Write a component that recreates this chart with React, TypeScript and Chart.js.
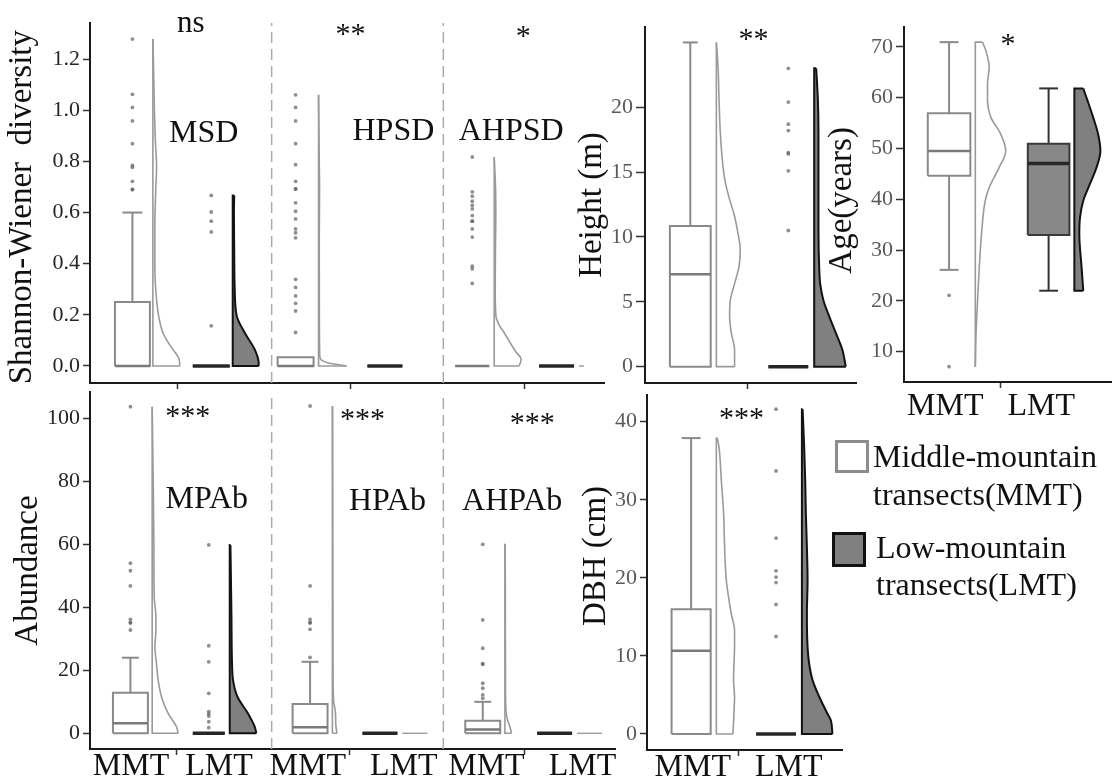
import React, { useEffect, useRef } from "react";
import { Chart, registerables } from "chart.js";

Chart.register(...registerables);

const FONT = "'Liberation Serif', 'Times New Roman', Times, serif";
Chart.defaults.font.family = FONT;

// ================= DATA =================
// Box statistics: [lower whisker, Q1, median, Q3, upper whisker]
// Half-violin outlines: [value, density width]

// ---- Shannon-Wiener diversity ----
const shannonYTicks = [0, 0.2, 0.4, 0.6, 0.8, 1.0, 1.2];
const shannonFacets = ["MSD", "HPSD", "AHPSD"];
const shannonSignif = ["ns", "**", "*"];
const msdMMTBox = [0, 0, 0, 0.25, 0.6];
const msdLMTBox = [0, 0, 0, 0, 0];
const hpsdMMTBox = [0, 0, 0, 0.034, 0.034];
const hpsdLMTBox = [0, 0, 0, 0, 0];
const ahpsdMMTBox = [0, 0, 0, 0, 0];
const ahpsdLMTBox = [0, 0, 0, 0, 0];
const msdMMTOutliers = [1.278, 1.062, 1.011, 0.958, 0.869, 0.784, 0.777, 0.722, 0.69, 0.69];
const msdLMTOutliers = [0.667, 0.602, 0.566, 0.524, 0.157];
const hpsdMMTOutliers = [1.06, 1.011, 0.958, 0.869, 0.787, 0.722, 0.692, 0.692, 0.638, 0.605, 0.575, 0.536, 0.521, 0.501, 0.339, 0.307, 0.274, 0.245, 0.215, 0.131];
const hpsdLMTOutliers: number[] = [];
const ahpsdMMTOutliers = [0.817, 0.681, 0.664, 0.644, 0.628, 0.614, 0.588, 0.566, 0.566, 0.536, 0.504, 0.39, 0.38, 0.323];
const ahpsdLMTOutliers: number[] = [];
const msdMMTViolin = [[0, 27], [0.03, 26], [0.065, 20], [0.1, 14], [0.13, 10], [0.19, 6], [0.26, 3.7], [0.39, 2], [0.55, 2], [0.7, 3], [0.78, 3.7], [0.88, 2.5], [1.0, 1.5], [1.15, 0.8], [1.278, 0]];
const msdLMTViolin = [[0, 26], [0.013, 26], [0.065, 22], [0.13, 12], [0.196, 4], [0.3, 2], [0.45, 1.5], [0.6, 1.2], [0.667, 1.5]];
const hpsdMMTViolin = [[0, 28], [0.005, 20], [0.012, 10], [0.023, 3], [0.04, 1.2], [0.2, 0.8], [0.5, 0.7], [0.69, 1], [0.8, 0.7], [1.06, 0]];
const hpsdLMTViolin: number[][] = [];
const ahpsdMMTViolin = [[0, 25], [0.026, 27], [0.054, 22], [0.078, 18], [0.13, 10], [0.16, 5], [0.196, 1.7], [0.3, 1], [0.45, 1.2], [0.6, 1.6], [0.7, 1.3], [0.817, 0]];
const ahpsdLMTViolin = [[0, 5]];

// ---- Height (m) ----
const heightYTicks = [0, 5, 10, 15, 20];
const heightSignif = "**";
const heightMMTBox = [0, 0, 7.12, 10.85, 25.0];
const heightLMTBox = [0, 0, 0, 0, 0];
const heightMMTOutliers: number[] = [];
const heightLMTOutliers = [23.0, 20.4, 18.7, 18.2, 16.5, 16.4, 15.1, 10.5];
const heightMMTViolin = [[0, 18.3], [1.3, 18.3], [2.6, 15], [3.9, 13.3], [5.1, 14], [6.4, 18.3], [7.7, 22.7], [9, 24], [10.3, 21.7], [11.6, 18.3], [12.9, 13.3], [14.1, 9.3], [15.4, 6.7], [18, 4], [20.6, 2.7], [23.1, 1.7], [25, 0]];
const heightLMTViolin = [[0, 31.7], [1.3, 28.3], [2.6, 21.7], [3.9, 15], [5.1, 9.3], [6.4, 6], [7.7, 5], [10.3, 4.3], [15.4, 4.3], [18, 4.3], [20.6, 3.7], [23, 2]];

// ---- Age (years) ----
const ageYTicks = [10, 20, 30, 40, 50, 60, 70];
const ageSignif = "*";
const ageMMTBox = [26.1, 44.6, 49.5, 56.9, 70.9];
const ageLMTBox = [22, 32.95, 47.05, 50.9, 61.8];
const ageMMTOutliers = [21.1, 7.05];
const ageLMTOutliers: number[] = [];
const ageMMTViolin = [[7, 0], [13.5, 0.7], [20.1, 2.3], [26.6, 4], [33.2, 6.3], [39.7, 10], [42.3, 14], [46.2, 24], [49.5, 30.7], [52.8, 25.7], [56.1, 15.7], [59.4, 12.3], [62.7, 12.3], [66, 14], [69.2, 10.7], [70.9, 7.3]];
const ageLMTViolin = [[22, 9], [26.6, 7.3], [33.2, 5], [36.4, 5.7], [39.7, 9], [43, 15.7], [46.2, 22.3], [49.5, 26.3], [52.8, 24], [56.1, 19], [59.4, 13.3], [61.8, 9]];

// ---- Abundance ----
const abundanceYTicks = [0, 20, 40, 60, 80, 100];
const abundanceFacets = ["MPAb", "HPAb", "AHPAb"];
const abundanceSignif = ["***", "***", "***"];
const mpabMMTBox = [0, 0, 3.17, 12.9, 24];
const mpabLMTBox = [0, 0, 0, 0, 0];
const hpabMMTBox = [0, 0, 1.9, 9.3, 22.7];
const hpabLMTBox = [0, 0, 0, 0, 0];
const ahpabMMTBox = [0, 0, 1.2, 4.0, 10];
const ahpabLMTBox = [0, 0, 0, 0, 0];
const mpabMMTOutliers = [103.7, 54, 51.6, 46.8, 36.2, 35.1, 35.1, 32.8];
const mpabLMTOutliers = [59.8, 27.8, 22.7, 12.7, 6.9, 6.2, 5.5, 3.7, 1.8];
const hpabMMTOutliers = [103.9, 46.8, 36.2, 35.1, 35.1, 33, 24.1];
const hpabLMTOutliers: number[] = [];
const ahpabMMTOutliers = [60, 36, 27, 22, 22, 15.9, 14.3, 12.2, 11.1];
const ahpabLMTOutliers: number[] = [];
const mpabMMTViolin = [[0, 26], [2.1, 24.3], [6.3, 16], [11.6, 9.3], [16.9, 6], [22.2, 4.3], [27.5, 2.7], [32.8, 3.7], [37.1, 3.7], [43.4, 2], [59.3, 1.7], [80.4, 1], [103.7, 0]];
const mpabLMTViolin = [[0, 26.7], [2.1, 25], [6.3, 18.3], [11.6, 7.7], [16.9, 3.3], [22.2, 2.3], [38, 1.7], [59.8, 0.7]];
const hpabMMTViolin = [[0, 4.7], [3, 3.5], [6.3, 3.3], [10.6, 1.3], [20, 0.8], [50, 0.6], [103.9, 0.3]];
const hpabLMTViolin = [[0, 25]];
const ahpabMMTViolin = [[0, 6.7], [2.1, 5], [4.2, 2.7], [7.4, 1], [15, 0.6], [30, 0.5], [60, 0.3]];
const ahpabLMTViolin = [[0, 25]];

// ---- DBH (cm) ----
const dbhYTicks = [0, 10, 20, 30, 40];
const dbhSignif = "***";
const dbhMMTBox = [0, 0, 10.67, 15.97, 37.9];
const dbhLMTBox = [0, 0, 0, 0, 0];
const dbhMMTOutliers: number[] = [];
const dbhLMTOutliers = [41.6, 33.7, 25.1, 20.9, 20.1, 19.4, 16.6, 12.5];
const dbhMMTViolin = [[0, 16.7], [2.6, 17.7], [4.8, 18.3], [6.9, 17.3], [9, 17.7], [11.1, 18.3], [13.3, 18.3], [15.4, 15], [17.5, 12.3], [19.7, 10], [24, 8.3], [28.2, 7.3], [32.5, 5], [36.7, 2.7], [37.9, 1]];
const dbhLMTViolin = [[0, 30.7], [1.8, 29], [2.6, 25.7], [4.8, 17.3], [6.9, 10.7], [9, 7.3], [11.1, 5.7], [15.4, 5], [19.7, 5.7], [24, 5], [28.2, 4], [32.5, 3.3], [36.7, 2.3], [41.6, 0.7]];

const groupLabel = "MMT   LMT";
const legendLabels = [["Middle-mountain", "transects(MMT)"], ["Low-mountain", "transects(LMT)"]];

// ================= STYLES / LAYOUT =================
const MMT_STYLE = {
  boxStroke: "#8a8a8a", boxFill: "#ffffff", boxWidth: 2,
  medianStroke: "#7a7a7a", medianWidth: 2.5,
  whiskerStroke: "#8a8a8a", whiskerWidth: 2,
  violinStroke: "#9a9a9a", violinFill: "#ffffff", violinWidth: 1.6,
  flatStroke: "#a0a0a0",
};
const LMT_STYLE = {
  boxStroke: "#3a3a3a", boxFill: "#888888", boxWidth: 2,
  medianStroke: "#262626", medianWidth: 3.5,
  whiskerStroke: "#333333", whiskerWidth: 2,
  violinStroke: "#121212", violinFill: "#808080", violinWidth: 2,
  flatStroke: "#a0a0a0",
};
const OUTLIER_COLOR = "rgba(100,100,100,0.72)";

// slot positions along each panel's x axis (page-pixel units)
const shannonSlots = [
  { box: [115, 150], cap: 10, violin: 153 },
  { box: [193, 230], cap: 10, violin: 233 },
  { box: [278, 314], cap: 9, violin: 319 },
  { box: [368, 403], cap: 9, violin: 406 },
  { box: [456, 490], cap: 9, violin: 495 },
  { box: [540, 575], cap: 9, violin: 580 },
];
const heightSlots = [
  { box: [670, 711], cap: 7.5, violin: 716.7 },
  { box: [769, 809], cap: 7.5, violin: 815 },
];
const ageSlots = [
  { box: [928, 971], cap: 9.5, violin: 976 },
  { box: [1029, 1071], cap: 9.5, violin: 1076 },
];
const abundanceSlots = [
  { box: [113, 148], cap: 8.5, violin: 152.3 },
  { box: [193, 225], cap: 8.5, violin: 230 },
  { box: [293, 328], cap: 8.5, violin: 332.7 },
  { box: [363, 398], cap: 8.5, violin: 403 },
  { box: [466, 501], cap: 8.5, violin: 505.7 },
  { box: [538, 573], cap: 8.5, violin: 578 },
];
const dbhSlots = [
  { box: [671.7, 711], cap: 9.5, violin: 716.7 },
  { box: [756.7, 796.7], cap: 9.5, violin: 802.7 },
];

// ================= HELPERS =================
function seg(points: number[][], color: string, width: number, extra: any = {}) {
  return {
    type: "line",
    data: points.map(([x, y]) => ({ x, y })),
    borderColor: color,
    borderWidth: width,
    pointRadius: 0,
    fill: false,
    tension: 0,
    ...extra,
  };
}

function groupDatasets(stats: number[], outliers: number[], violin: number[][], slot: any, st: any) {
  const [lo, q1, med, q3, hi] = stats;
  const [bx0, bx1] = slot.box;
  const xc = (bx0 + bx1) / 2;
  const v0 = slot.violin;
  const sets: any[] = [];
  if (outliers.length) {
    sets.push({
      type: "line",
      data: outliers.map((y) => ({ x: xc, y })),
      showLine: false,
      pointRadius: 1.9,
      pointBackgroundColor: OUTLIER_COLOR,
      pointBorderWidth: 0,
      borderWidth: 0,
    });
  }
  sets.push(seg([[bx0, med], [bx1, med]], st.medianStroke, st.medianWidth));
  sets.push(seg([[bx0, q1], [bx1, q1], [bx1, q3], [bx0, q3], [bx0, q1]], st.boxStroke, st.boxWidth, { fill: "shape", backgroundColor: st.boxFill }));
  if (hi > q3) {
    sets.push(seg([[xc, q3], [xc, hi]], st.whiskerStroke, st.whiskerWidth));
    sets.push(seg([[xc - slot.cap, hi], [xc + slot.cap, hi]], st.whiskerStroke, st.whiskerWidth));
  }
  if (lo < q1) {
    sets.push(seg([[xc, q1], [xc, lo]], st.whiskerStroke, st.whiskerWidth));
    sets.push(seg([[xc - slot.cap, lo], [xc + slot.cap, lo]], st.whiskerStroke, st.whiskerWidth));
  }
  if (violin.length > 1) {
    const first = violin[0];
    const last = violin[violin.length - 1];
    sets.push(seg([[v0 + first[1], first[0]], [v0, first[0]], [v0, last[0]], [v0 + last[1], last[0]]], st.violinStroke, st.violinWidth));
    sets.push({
      type: "line",
      indexAxis: "y",
      data: violin.map(([y, w]) => ({ x: v0 + w, y })),
      borderColor: st.violinStroke,
      borderWidth: st.violinWidth,
      backgroundColor: st.violinFill,
      fill: { value: v0 },
      cubicInterpolationMode: "monotone",
      pointRadius: 0,
    });
  } else if (violin.length === 1) {
    sets.push(seg([[v0, violin[0][0]], [v0 + violin[0][1], violin[0][0]]], st.flatStroke, 1.5));
  }
  return sets;
}

function textPlugin(items: any[]) {
  return {
    id: "panelTexts",
    afterDatasetsDraw(chart: any) {
      const { ctx } = chart;
      const xs = chart.scales.x;
      const ys = chart.scales.y;
      ctx.save();
      ctx.fillStyle = "#111";
      ctx.textAlign = "center";
      ctx.textBaseline = "alphabetic";
      for (const t of items) {
        ctx.font = `${t.size}px ${FONT}`;
        ctx.fillText(t.text, xs.getPixelForValue(t.x), ys.getPixelForValue(t.y));
      }
      ctx.restore();
    },
  };
}

// ================= PANELS =================
const panels: any[] = [
  {
    id: "shannon", left: 3, top: 0, width: 605, height: 393, padTop: 23, padRight: 3, yWidth: 87, xHeight: 10,
    xMin: 90, xMax: 605, xTicks: [178, 351, 525], xLabels: null, xLabelPad: 0, xLabelOffset: 0,
    yMin: -0.0665, yMax: 1.341, yTicks: shannonYTicks, yDecimals: 1, yTitle: "Shannon-Wiener  diversity ", yTickColor: "#262626", yTickLength: 7,
    separators: [272, 444],
    groups: [
      [msdMMTBox, msdMMTOutliers, msdMMTViolin, shannonSlots[0], MMT_STYLE],
      [msdLMTBox, msdLMTOutliers, msdLMTViolin, shannonSlots[1], LMT_STYLE],
      [hpsdMMTBox, hpsdMMTOutliers, hpsdMMTViolin, shannonSlots[2], MMT_STYLE],
      [hpsdLMTBox, hpsdLMTOutliers, hpsdLMTViolin, shannonSlots[3], LMT_STYLE],
      [ahpsdMMTBox, ahpsdMMTOutliers, ahpsdMMTViolin, shannonSlots[4], MMT_STYLE],
      [ahpsdLMTBox, ahpsdLMTOutliers, ahpsdLMTViolin, shannonSlots[5], LMT_STYLE],
    ],
    texts: [
      { text: shannonSignif[0], x: 191, y: 1.306, size: 31 },
      { text: shannonFacets[0], x: 204, y: 0.876, size: 32 },
      { text: shannonSignif[1], x: 351, y: 1.263, size: 30 },
      { text: shannonFacets[1], x: 394, y: 0.883, size: 32 },
      { text: shannonSignif[2], x: 524, y: 1.255, size: 30 },
      { text: shannonFacets[2], x: 512, y: 0.883, size: 32 },
    ],
  },
  {
    id: "height", left: 573, top: 0, width: 287, height: 393, padTop: 27, padRight: 3, yWidth: 72, xHeight: 10,
    xMin: 645, xMax: 857, xTicks: [748], xLabels: null, xLabelPad: 0, xLabelOffset: 0,
    yMin: -1.26, yMax: 26.19, yTicks: heightYTicks, yDecimals: 0, yTitle: "Height (m)", yTickColor: "#5a5a5a", yTickLength: 9,
    separators: [],
    groups: [
      [heightMMTBox, heightMMTOutliers, heightMMTViolin, heightSlots[0], MMT_STYLE],
      [heightLMTBox, heightLMTOutliers, heightLMTViolin, heightSlots[1], LMT_STYLE],
    ],
    texts: [{ text: heightSignif, x: 754, y: 24.57, size: 30 }],
  },
  {
    id: "age", left: 823, top: 0, width: 292, height: 427, padTop: 27, padRight: 2, yWidth: 81, xHeight: 45,
    xMin: 904, xMax: 1113, xTicks: [1001], xLabels: [groupLabel], xLabelPad: 3, xLabelOffset: -9,
    yMin: 4.04, yMax: 73.88, yTicks: ageYTicks, yDecimals: 0, yTitle: " Age(years)", yTickColor: "#5a5a5a", yTickLength: 8,
    separators: [],
    groups: [
      [ageMMTBox, ageMMTOutliers, ageMMTViolin, ageSlots[0], MMT_STYLE],
      [ageLMTBox, ageLMTOutliers, ageLMTViolin, ageSlots[1], LMT_STYLE],
    ],
    texts: [{ text: ageSignif, x: 1009, y: 68.76, size: 30 }],
  },
  {
    id: "abundance", left: 9, top: 380, width: 610, height: 404, padTop: 12, padRight: 3, yWidth: 81, xHeight: 35,
    xMin: 90, xMax: 616, xTicks: [177, 350, 525], xLabels: ["MMT  LMT ", " MMT   LMT", "  MMT   LMT"], xLabelPad: -4, xLabelOffset: 0,
    yMin: -4.98, yMax: 108.35, yTicks: abundanceYTicks, yDecimals: 0, yTitle: "Abundance", yTickColor: "#262626", yTickLength: 7,
    separators: [272, 444],
    groups: [
      [mpabMMTBox, mpabMMTOutliers, mpabMMTViolin, abundanceSlots[0], MMT_STYLE],
      [mpabLMTBox, mpabLMTOutliers, mpabLMTViolin, abundanceSlots[1], LMT_STYLE],
      [hpabMMTBox, hpabMMTOutliers, hpabMMTViolin, abundanceSlots[2], MMT_STYLE],
      [hpabLMTBox, hpabLMTOutliers, hpabLMTViolin, abundanceSlots[3], LMT_STYLE],
      [ahpabMMTBox, ahpabMMTOutliers, ahpabMMTViolin, abundanceSlots[4], MMT_STYLE],
      [ahpabLMTBox, ahpabLMTOutliers, ahpabLMTViolin, abundanceSlots[5], LMT_STYLE],
    ],
    texts: [
      { text: abundanceSignif[0], x: 188, y: 97.9, size: 30 },
      { text: abundanceFacets[0], x: 207, y: 71.5, size: 32 },
      { text: abundanceSignif[1], x: 363, y: 96.9, size: 30 },
      { text: abundanceFacets[1], x: 388, y: 70.9, size: 32 },
      { text: abundanceSignif[2], x: 533, y: 95.7, size: 30 },
      { text: abundanceFacets[2], x: 513, y: 70.9, size: 32 },
    ],
  },
  {
    id: "dbh", left: 577, top: 380, width: 269, height: 404, padTop: 15, padRight: 3, yWidth: 70, xHeight: 34,
    xMin: 647, xMax: 843, xTicks: [739], xLabels: [groupLabel], xLabelPad: -4, xLabelOffset: 0,
    yMin: -2.05, yMax: 43.42, yTicks: dbhYTicks, yDecimals: 0, yTitle: "    DBH (cm)", yTickColor: "#5a5a5a", yTickLength: 7,
    separators: [],
    groups: [
      [dbhMMTBox, dbhMMTOutliers, dbhMMTViolin, dbhSlots[0], MMT_STYLE],
      [dbhLMTBox, dbhLMTOutliers, dbhLMTViolin, dbhSlots[1], LMT_STYLE],
    ],
    texts: [{ text: dbhSignif, x: 742, y: 39.32, size: 30 }],
  },
];

function makeConfig(p: any) {
  const datasets: any[] = [];
  for (const g of p.groups) datasets.push(...groupDatasets(g[0], g[1], g[2], g[3], g[4]));
  for (const sx of p.separators) {
    datasets.push(seg([[sx, p.yMin], [sx, p.yMax]], "#ababab", 1.5, { borderDash: [11, 6] }));
  }
  return {
    type: "line",
    data: { datasets },
    options: {
      animation: false,
      responsive: false,
      events: [],
      layout: { padding: { top: p.padTop, right: p.padRight, left: 0, bottom: 0 } },
      plugins: { legend: { display: false }, tooltip: { enabled: false }, title: { display: false } },
      scales: {
        x: {
          type: "linear",
          min: p.xMin,
          max: p.xMax,
          afterBuildTicks: (s: any) => { s.ticks = p.xTicks.map((v: number) => ({ value: v })); },
          afterFit: (s: any) => { s.height = p.xHeight; s.paddingLeft = 0; s.paddingRight = 0; },
          grid: { drawOnChartArea: false, drawTicks: true, tickLength: 6, tickColor: "#333", tickWidth: 1.5 },
          border: { display: true, color: "#1a1a1a", width: 2 },
          ticks: {
            display: !!p.xLabels,
            autoSkip: false,
            maxRotation: 0,
            minRotation: 0,
            padding: p.xLabelPad,
            labelOffset: p.xLabelOffset,
            color: "#111",
            font: { family: FONT, size: 32, lineHeight: 1 },
            callback: (_v: any, i: number) => (p.xLabels ? p.xLabels[i] : ""),
          },
        },
        y: {
          type: "linear",
          min: p.yMin,
          max: p.yMax,
          afterBuildTicks: (s: any) => { s.ticks = p.yTicks.map((v: number) => ({ value: v })); },
          afterFit: (s: any) => { s.width = p.yWidth; s.paddingTop = 0; s.paddingBottom = 0; },
          grid: { drawOnChartArea: false, drawTicks: true, tickLength: p.yTickLength, tickColor: "#333", tickWidth: 1.5 },
          border: { display: true, color: "#1a1a1a", width: 2 },
          ticks: {
            autoSkip: false,
            padding: 3,
            color: p.yTickColor,
            font: { family: FONT, size: 22 },
            callback: (v: number) => Number(v).toFixed(p.yDecimals),
          },
          title: {
            display: true,
            text: p.yTitle,
            color: "#111",
            font: { family: FONT, size: 33 },
            padding: { top: 0, bottom: 0 },
          },
        },
      },
    },
    plugins: [textPlugin(p.texts)],
  };
}

function Panel({ spec }: { spec: any }) {
  const ref = useRef<HTMLCanvasElement | null>(null);
  useEffect(() => {
    if (!ref.current) return;
    const chart = new Chart(ref.current, makeConfig(spec) as any);
    return () => chart.destroy();
  }, [spec]);
  return (
    <canvas
      ref={ref}
      width={spec.width}
      height={spec.height}
      style={{ position: "absolute", left: spec.left, top: spec.top, width: spec.width, height: spec.height }}
    />
  );
}

function Legend() {
  const text: any = {
    position: "absolute", fontFamily: FONT, fontSize: 32, lineHeight: "32px", color: "#111", whiteSpace: "nowrap",
  };
  return (
    <>
      <div style={{ position: "absolute", left: 835, top: 440, width: 34, height: 33, boxSizing: "border-box", border: "3px solid #8c8c8c", background: "#fff" }} />
      <div style={{ ...text, left: 873, top: 440 }}>{legendLabels[0][0]}</div>
      <div style={{ ...text, left: 873, top: 478 }}>{legendLabels[0][1]}</div>
      <div style={{ position: "absolute", left: 832, top: 532, width: 34, height: 35, boxSizing: "border-box", border: "3.5px solid #111", background: "#808080" }} />
      <div style={{ ...text, left: 876, top: 531 }}>{legendLabels[1][0]}</div>
      <div style={{ ...text, left: 876, top: 568 }}>{legendLabels[1][1]}</div>
    </>
  );
}

export default function App() {
  return (
    <div style={{ position: "absolute", left: 0, top: 0, width: 1115, height: 784, background: "#fff", overflow: "hidden" }}>
      {panels.map((p) => (
        <Panel key={p.id} spec={p} />
      ))}
      <Legend />
    </div>
  );
}
